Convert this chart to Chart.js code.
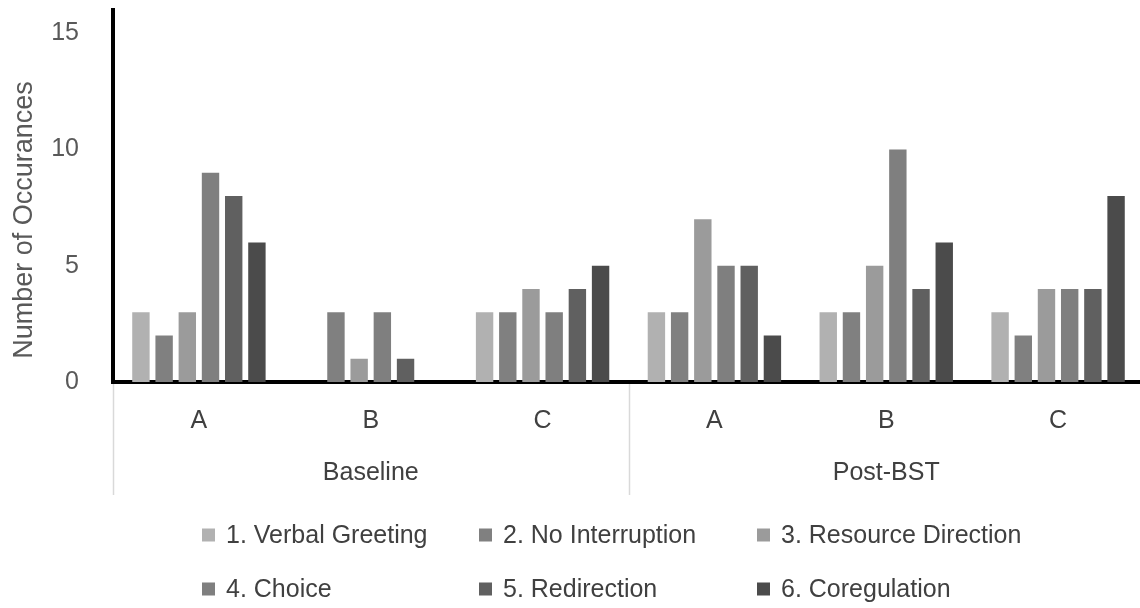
<!DOCTYPE html>
<html>
<head>
<meta charset="utf-8">
<script src="https://cdn.jsdelivr.net/npm/chart.js@4.4.1/dist/chart.umd.min.js"></script>
<style>
  html, body { margin: 0; padding: 0; background: #ffffff; overflow: hidden; }
  #wrap { width: 1144px; height: 608px; position: relative; }
</style>
</head>
<body>
<div id="wrap"><canvas id="chart"></canvas></div>
<script>
// Categories (participant) and their phase groups
const participants = ['A', 'B', 'C', 'A', 'B', 'C'];
const phases = ['Baseline', 'Post-BST'];
const phaseSpan = [3, 3];

// Occurrences per skill, in participant order
const verbalGreeting    = [3, 0, 3, 3, 3, 3];
const noInterruption    = [2, 3, 3, 3, 3, 2];
const resourceDirection = [3, 1, 4, 7, 5, 4];
const choice            = [9, 3, 3, 5, 10, 4];
const redirection       = [8, 1, 4, 5, 4, 4];
const coregulation      = [6, 0, 5, 2, 6, 8];

const seriesNames = ['1. Verbal Greeting', '2. No Interruption', '3. Resource Direction',
                     '4. Choice', '5. Redirection', '6. Coregulation'];
const seriesValues = [verbalGreeting, noInterruption, resourceDirection, choice, redirection, coregulation];
const seriesColors = ['#b1b1b1', '#808080', '#9b9b9b', '#7f7f7f', '#606060', '#4b4b4b'];

const yTicks = [0, 5, 10, 15];
const yTitle = 'Number of Occurances';

const FONT = "'Liberation Sans', Arial, sans-serif";
const TEXT_DARK = '#404040';
const TEXT_GRAY = '#595959';

// Phase group labels, separators, y title and two-row legend
const decorations = {
  id: 'decorations',
  afterDraw(chart) {
    const ctx = chart.ctx;
    const xs = chart.scales.x;
    const area = chart.chartArea;
    ctx.save();

    // phase separators and labels
    let start = 0;
    const bounds = [xs.getPixelForValue(-0.5)];
    ctx.font = '25px ' + FONT;
    ctx.fillStyle = TEXT_DARK;
    ctx.textAlign = 'center';
    ctx.textBaseline = 'middle';
    phases.forEach((p, i) => {
      const end = start + phaseSpan[i] - 1;
      const l = xs.getPixelForValue(start - 0.5);
      const r = xs.getPixelForValue(end + 0.5);
      bounds.push(r);
      ctx.fillText(p, (l + r) / 2, area.bottom + 91);
      start = end + 1;
    });
    ctx.strokeStyle = '#d9d9d9';
    ctx.lineWidth = 1.5;
    bounds.forEach(x => {
      ctx.beginPath();
      ctx.moveTo(Math.round(x) + 0.5, area.bottom + 2);
      ctx.lineTo(Math.round(x) + 0.5, area.bottom + 113);
      ctx.stroke();
    });

    // y axis title
    ctx.save();
    ctx.translate(25, 220);
    ctx.rotate(-Math.PI / 2);
    ctx.font = '27px ' + FONT;
    ctx.fillStyle = TEXT_GRAY;
    ctx.textAlign = 'center';
    ctx.textBaseline = 'middle';
    ctx.fillText(yTitle, 0, 0);
    ctx.restore();

    // legend: three columns, two rows
    const colX = [202, 479, 757];
    const rowY = [535, 589];
    ctx.font = '25px ' + FONT;
    ctx.textAlign = 'left';
    ctx.textBaseline = 'middle';
    chart.data.datasets.forEach((ds, i) => {
      const bx = colX[i % 3];
      const by = rowY[Math.floor(i / 3)];
      ctx.fillStyle = ds.backgroundColor;
      ctx.fillRect(bx, by - 6.5, 13, 13);
      ctx.fillStyle = TEXT_DARK;
      ctx.fillText(ds.label, bx + 24, by + 1);
    });
    ctx.restore();
  }
};

new Chart(document.getElementById('chart'), {
  type: 'bar',
  data: {
    labels: participants,
    datasets: seriesNames.map((name, i) => ({
      label: name,
      data: seriesValues[i],
      backgroundColor: seriesColors[i],
      borderWidth: 0,
      categoryPercentage: 0.81,
      barPercentage: 0.75
    }))
  },
  options: {
    responsive: true,
    maintainAspectRatio: false,
    animation: false,
    layout: { padding: { top: 10, right: 0, bottom: 0, left: 0 } },
    plugins: {
      legend: { display: false },
      tooltip: { enabled: false }
    },
    scales: {
      x: {
        grid: { display: false },
        border: { display: true, color: '#000000', width: 4 },
        ticks: {
          padding: 16,
          color: TEXT_DARK,
          font: { family: FONT, size: 25 },
          maxRotation: 0,
          autoSkip: false
        },
        afterFit(scale) {
          scale.height = 226;
          scale.paddingLeft = 0;
          scale.paddingRight = 0;
        }
      },
      y: {
        min: 0,
        max: 16,
        grid: { display: false },
        border: { display: true, color: '#000000', width: 4 },
        ticks: {
          stepSize: 5,
          padding: 26,
          color: TEXT_GRAY,
          font: { family: FONT, size: 25 }
        },
        afterBuildTicks(scale) {
          scale.ticks = yTicks.map(v => ({ value: v }));
        },
        afterFit(scale) {
          scale.width = 113;
          scale.paddingTop = 0;
          scale.paddingBottom = 0;
        }
      }
    }
  },
  plugins: [decorations]
});
</script>
</body>
</html>
